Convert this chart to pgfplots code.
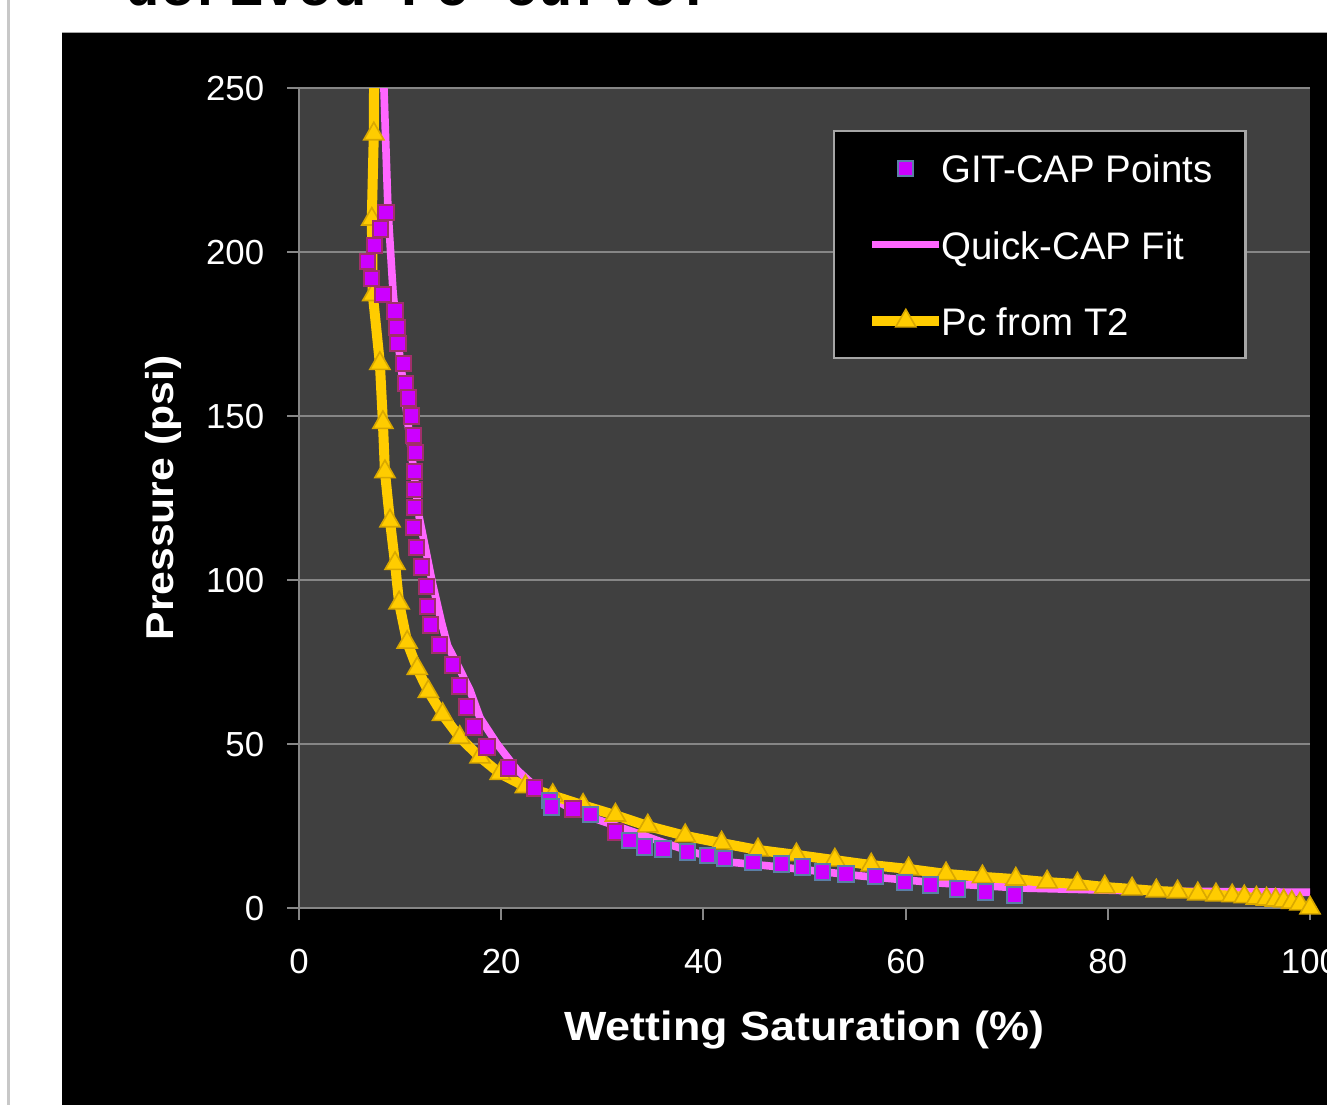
\documentclass[border=0pt]{standalone}
\usepackage{fontspec}
\usepackage{pgfplots}
\pgfplotsset{compat=1.18}
\setmainfont{Liberation Sans}
\newfontfamily\tickfont{Liberation Sans}
\newfontfamily\labfont[FakeStretch=1.1]{Liberation Sans}
\newfontfamily\titlefont{Liberation Mono}
\newcommand\tickfnt{\tickfont\fontsize{8.7}{10}\selectfont}
\newcommand\legfnt{\tickfont\fontsize{9.6}{11}\selectfont}
\definecolor{plotbg}{HTML}{404040}
\definecolor{gridc}{HTML}{868686}
\definecolor{pinkc}{HTML}{FF66FF}
\definecolor{goldc}{HTML}{FFCC00}
\definecolor{goldd}{HTML}{D9A800}
\definecolor{purp}{HTML}{CC00FF}
\definecolor{redb}{HTML}{A0306A}
\definecolor{blueb}{HTML}{5B7FA6}
\definecolor{sideline}{HTML}{C8C8C8}
\definecolor{legbord}{HTML}{A6A6A6}
\begin{document}
\begin{tikzpicture}
\path[use as bounding box] (0pt,0pt) rectangle (331.75pt,-276.25pt);
\clip (0pt,0pt) rectangle (331.75pt,-276.25pt);
\begin{scope}[x=0.25pt,y=-0.25pt]
\fill[white] (0,0) rectangle (1327,1105);
\fill[sideline] (7,0) rectangle (10,1105);
\fill[black] (62,32) rectangle (1327,1105);
\draw[legbord, line width=0.3pt] (62,32.5) -- (1327,32.5);
\node[anchor=base west, inner sep=0pt, font=\titlefont\bfseries\fontsize{14.34}{16}\selectfont] at (125,5) {derived Pc curve.};
\end{scope}
\begin{axis}[
  at={(74.75pt,-227pt)}, anchor=south west,
  scale only axis, width=252.75pt, height=205pt,
  xmin=0, xmax=100, ymin=0, ymax=250,
  xtick={0,20,40,60,80,100}, ytick={0,50,100,150,200,250},
  axis lines=left, axis line style={-, draw=gridc, line width=0.5pt},
  axis background/.style={fill=plotbg},
  ymajorgrids, grid style={gridc, line width=0.5pt},
  tick style={gridc, line width=0.5pt},
  tick align=outside, major tick length=3pt,
  /pgf/number format/assume math mode=true,
  tick label style={font=\tickfnt, text=white},
  yticklabel style={anchor=east, inner sep=0pt, xshift=-5.5pt},
  xticklabel style={anchor=north, inner sep=0pt, yshift=-7pt},
  xlabel={Wetting Saturation (\%)},
  ylabel={Pressure (psi)},
  xlabel style={at={(axis description cs:0.5,-0.161)}, anchor=base, font=\labfont\bfseries\fontsize{10.2}{12}\selectfont, text=white},
  ylabel style={at={(axis description cs:-0.1246,0.5)}, anchor=base, rotate=0, font=\labfont\bfseries\fontsize{9.7}{12}\selectfont, text=white},
  legend cell align=left,
  legend image code/.code={\draw[mark repeat=2,mark phase=2,#1] plot coordinates {(0pt,0pt)(8.4pt,0pt)(16.8pt,0pt)};},
  legend style={at={(0.5282,0.9488)}, anchor=north west, fill=black, draw=legbord, line width=0.6pt, text=white, font=\legfnt, inner xsep=8.25pt, inner ysep=5pt, row sep=10.6pt, column sep=-0.75pt, nodes={inner sep=0pt, text height=7.9pt, text depth=0.6pt}},
]
% legend
\addlegendimage{only marks, mark=square*, mark size=1.9pt, mark options={fill=purp, draw=blueb, line width=0.5pt}}
\addlegendentry{GIT-CAP Points}
\addlegendimage{pinkc, line width=1.9pt}
\addlegendentry{Quick-CAP Fit}
\addlegendimage{goldc, line width=2.5pt, mark=triangle*, mark size=2.9pt, mark options={fill=goldc, draw=goldd, line width=0.4pt}}
\addlegendentry{Pc from T2}

% Quick-CAP Fit
\addplot[pinkc, line width=1.9pt, forget plot] coordinates {
(8.2,275)(8.4,250)(8.8,213)(9.3,188)(9.7,175)(10.5,155)(11.2,137)(11.9,119)(13.2,99)(14.1,87)(14.7,80)(15.7,74)(16.9,66.5)(17.9,58)(19.6,50)(21.6,42)(24.1,35)(26.5,31)(29.5,27)(33,23.3)(36,20)(39,17)(42.6,14)(47.6,12.5)(55.5,9.8)(63.4,7.6)(71.3,6.1)(83.2,5.2)(100,4.8)};

% Pc from T2 line
\addplot[goldc, line width=2.5pt, forget plot] coordinates {
(7.45,270)(7.4,236)(7.2,210)(7.3,187)(8.0,166)(8.3,148)(8.5,133)(9.0,118)(9.5,105)(9.9,93)(10.7,81)(11.7,73)(12.8,66)(14.2,59)(15.9,52)(17.9,46)(19.9,41)(22.4,37)(25.1,34.3)(28.1,31.3)(31.3,28.3)(34.5,25)(38.2,22)(41.8,19.8)(45.4,17.7)(49.2,16.2)(53,14.6)(56.6,13.1)(60.3,11.9)(64,10.4)(67.6,9.5)(70.9,8.8)(74,7.9)(77,7.3)(79.7,6.4)(82.4,5.8)(84.8,5.2)(86.9,4.9)(88.9,4.3)(90.7,4.0)(92.3,3.7)(93.5,3.4)(94.7,3.0)(95.7,2.7)(96.6,2.4)(97.4,2.1)(98.2,1.7)(99,1.2)(100,0)};
% Pc from T2 markers
\addplot[only marks, mark=triangle*, mark size=2.9pt, mark options={fill=goldc, draw=goldd, line width=0.4pt}, forget plot] coordinates {
(7.4,236)(7.2,210)(7.3,187)(8.0,166)(8.3,148)(8.5,133)(9.0,118)(9.5,105)(9.9,93)(10.7,81)(11.7,73)(12.8,66)(14.2,59)(15.9,52)(17.9,46)(19.9,41)(22.4,37)(25.1,34.3)(28.1,31.3)(31.3,28.3)(34.5,25)(38.2,22)(41.8,19.8)(45.4,17.7)(49.2,16.2)(53,14.6)(56.6,13.1)(60.3,11.9)(64,10.4)(67.6,9.5)(70.9,8.8)(74,7.9)(77,7.3)(79.7,6.4)(82.4,5.8)(84.8,5.2)(86.9,4.9)(88.9,4.3)(90.7,4.0)(92.3,3.7)(93.5,3.4)(94.7,3.0)(95.7,2.7)(96.6,2.4)(97.4,2.1)(98.2,1.7)(99,1.2)(100,0)};

% GIT-CAP points (red-bordered set)
\addplot[only marks, mark=square*, mark size=1.9pt, mark options={fill=purp, draw=redb, line width=0.5pt}, forget plot] coordinates {
(8.6,212)(8.1,207)(7.5,202)(6.8,197)(7.2,192)(8.3,187)(9.5,182)(9.7,177)(9.8,172)(10.3,166)(10.5,160)(10.8,155.5)(11.1,150)(11.3,144)(11.5,139)(11.4,133)(11.4,127.5)(11.4,122)(11.3,116)(11.6,110)(12.1,104)(12.6,98)(12.7,92)(13.0,86.3)(13.9,80.2)(15.2,74.1)(15.9,67.7)(16.6,61.3)(17.3,55.2)(18.6,49.1)(20.7,42.7)(23.3,36.6)(27.1,30.2)(31.3,23.2)};
% GIT-CAP points (blue-bordered set)
\addplot[only marks, mark=square*, mark size=1.9pt, mark options={fill=purp, draw=blueb, line width=0.5pt}, forget plot] coordinates {
(24.8,32.9)(25.0,30.8)(28.8,28.4)(32.7,20.7)(34.2,18.6)(36.0,18)(38.4,17.1)(40.4,16)(42.1,15.2)(44.9,14.0)(47.7,13.4)(49.8,12.5)(51.8,11)(54.1,10.4)(57.0,9.5)(59.9,7.9)(62.5,7.0)(65.1,5.8)(67.9,4.9)(70.8,4.0)};
\end{axis}
\end{tikzpicture}
\end{document}
